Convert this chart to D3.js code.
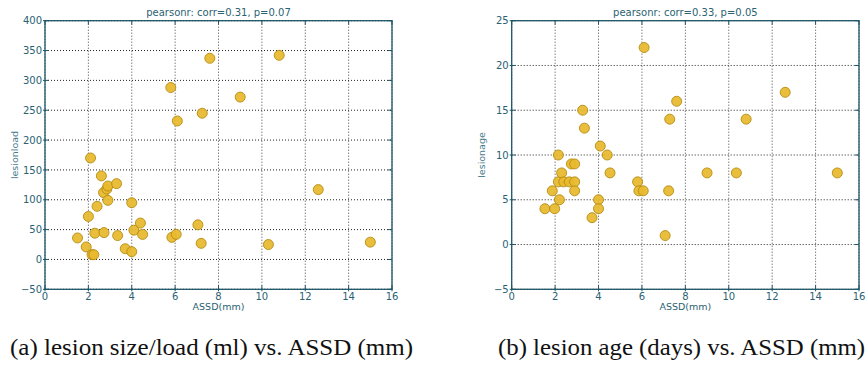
<!DOCTYPE html>
<html><head><meta charset="utf-8">
<script src="https://cdn.jsdelivr.net/npm/d3@7"></script>
<style>
body{margin:0;background:#fff;}
svg{display:block;}
</style></head>
<body>
<svg id="c" width="867" height="376"></svg>
<script>
// ---- data ----
const xTicks = [0,2,4,6,8,10,12,14,16];
const loadTicks = [-50,0,50,100,150,200,250,300,350,400];
const ageTicks = [-5,0,5,10,15,20,25];

const loadX = [1.5,1.9,2.0,2.1,2.17,2.25,2.3,2.4,2.6,2.7,2.72,2.85,2.9,2.9,3.3,3.35,3.7,4.0,4.0,4.1,4.4,4.5,5.8,5.85,6.05,6.1,7.05,7.2,7.25,7.6,9.0,10.3,10.8,12.6,15.0];
const loadY = [36,21,72,170,8,8,44,89,140,112,45,118,123,99,127,40,18,95,13,49,61,42,288,37,42,232,58,27,245,337,272,25,342,117,29];

const ageX = [1.53,1.87,1.98,2.15,2.15,2.2,2.3,2.4,2.65,2.75,2.9,2.9,2.9,3.27,3.35,3.7,4.0,4.0,4.08,4.4,4.53,5.8,5.86,6.06,6.1,7.07,7.23,7.28,7.6,9.0,10.35,10.8,12.6,15.0];
const ageY = [4,6,4,10,7,5,8,7,7,9,9,7,6,15,13,3,5,4,11,10,8,7,6,6,22,1,6,14,16,8,8,14,17,8];

const titles = ["pearsonr: corr=0.31, p=0.07","pearsonr: corr=0.33, p=0.05"];
const yLabels = ["lesionload","lesionage"];
const xLabel = "ASSD(mm)";
const captions = ["(a) lesion size/load (ml) vs. ASSD (mm)","(b) lesion age (days) vs. ASSD (mm)"];

// ---- drawing ----
(function(){
const svg = d3.select("#c");
const axisCol = "#1d5767";
const textCol = "#2b6272";
const yTop = 20.7, yBot = 289.3;

const panels = [
  {x0:45, x1:392, xs:loadX, ys:loadY, yt:loadTicks, title:titles[0], yl:yLabels[0], cap:captions[0], capX:10, capW:403},
  {x0:511.7, x1:859, xs:ageX, ys:ageY, yt:ageTicks, title:titles[1], yl:yLabels[1], cap:captions[1], capX:498, capW:367}
];

panels.forEach(p => {
  const x = d3.scaleLinear().domain([xTicks[0], xTicks[xTicks.length-1]]).range([p.x0, p.x1]);
  const y = d3.scaleLinear().domain([p.yt[0], p.yt[p.yt.length-1]]).range([yBot, yTop]);
  const g = svg.append("g");

  g.selectAll(".gx").data(xTicks).join("line")
    .attr("x1", d=>x(d)).attr("x2", d=>x(d)).attr("y1", yTop).attr("y2", yBot)
    .attr("stroke", "#444").attr("stroke-width", 1).attr("stroke-dasharray", "1,2");
  g.selectAll(".gy").data(p.yt).join("line")
    .attr("x1", p.x0).attr("x2", p.x1).attr("y1", d=>y(d)).attr("y2", d=>y(d))
    .attr("stroke", "#222").attr("stroke-width", 1).attr("stroke-dasharray", "1,2");

  const pts = p.xs.map((v,i)=>[v,p.ys[i]]);
  g.selectAll("circle").data(pts).join("circle")
    .attr("cx", d=>x(d[0])).attr("cy", d=>y(d[1])).attr("r", 5)
    .attr("fill", "#e8b82c").attr("fill-opacity", 0.92)
    .attr("stroke", "#b58c12").attr("stroke-width", 0.9);

  g.append("rect").attr("x", p.x0).attr("y", yTop).attr("width", p.x1-p.x0).attr("height", yBot-yTop)
    .attr("fill","none").attr("stroke", axisCol).attr("stroke-width", 1.3);

  g.selectAll(".tb").data(xTicks).join("line")
    .attr("x1", d=>x(d)).attr("x2", d=>x(d)).attr("y1", yBot-4).attr("y2", yBot+2)
    .attr("stroke", axisCol).attr("stroke-width", 1);
  g.selectAll(".tt").data(xTicks).join("line")
    .attr("x1", d=>x(d)).attr("x2", d=>x(d)).attr("y1", yTop).attr("y2", yTop+4)
    .attr("stroke", axisCol).attr("stroke-width", 1);
  g.selectAll(".tl").data(p.yt).join("line")
    .attr("x1", p.x0-2).attr("x2", p.x0+4).attr("y1", d=>y(d)).attr("y2", d=>y(d))
    .attr("stroke", axisCol).attr("stroke-width", 1);
  g.selectAll(".tr").data(p.yt).join("line")
    .attr("x1", p.x1-4).attr("x2", p.x1).attr("y1", d=>y(d)).attr("y2", d=>y(d))
    .attr("stroke", axisCol).attr("stroke-width", 1);

  g.selectAll(".lx").data(xTicks).join("text")
    .attr("x", d=>x(d)).attr("y", yBot+11).attr("text-anchor","middle")
    .attr("font-family","DejaVu Sans").attr("font-size", 10).attr("fill", textCol)
    .text(d=>d);
  g.selectAll(".ly").data(p.yt).join("text")
    .attr("x", p.x0-3).attr("y", d=>y(d)+3.6).attr("text-anchor","end")
    .attr("font-family","DejaVu Sans").attr("font-size", 10).attr("fill", textCol)
    .text(d=> d<0 ? "\u2212"+Math.abs(d) : d);

  g.append("text").attr("x", (p.x0+p.x1)/2).attr("y", 16).attr("text-anchor","middle")
    .attr("font-family","DejaVu Sans").attr("font-size", 10).attr("fill", textCol).text(p.title);
  g.append("text").attr("x", (p.x0+p.x1)/2).attr("y", 310).attr("text-anchor","middle")
    .attr("font-family","DejaVu Sans").attr("font-size", 9.5).attr("fill", textCol).text(xLabel);
  g.append("text").attr("transform", `translate(${p.x0-27},${(yTop+yBot)/2}) rotate(-90)`)
    .attr("text-anchor","middle")
    .attr("font-family","DejaVu Sans").attr("font-size", 9.5).attr("fill", "#4a7d8c").text(p.yl);

  g.append("text").attr("x", p.capX).attr("y", 355)
    .attr("font-family","Liberation Serif, DejaVu Serif, serif").attr("font-size", 24).attr("fill", "#111")
    .attr("textLength", p.capW).attr("lengthAdjust", "spacingAndGlyphs")
    .text(p.cap);
});
})();
</script>
</body></html>
